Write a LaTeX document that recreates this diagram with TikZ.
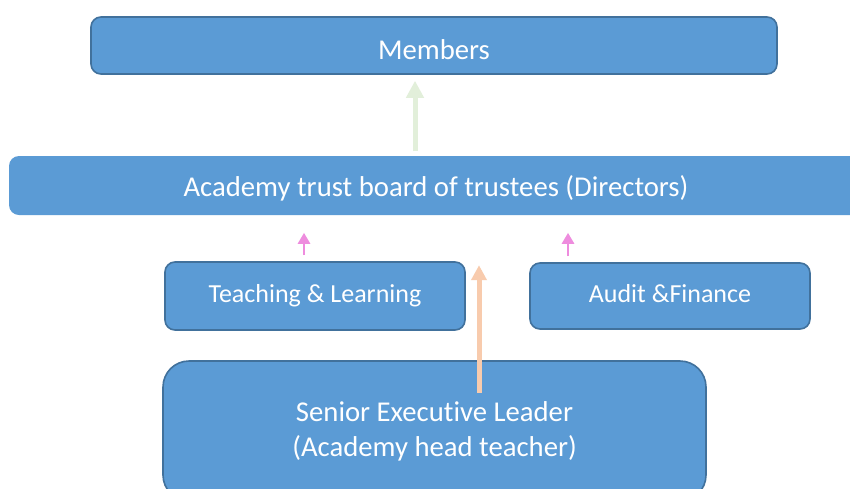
\documentclass[tikz,border=0pt]{standalone}
\usepackage{fontspec}
\setmainfont{Carlito}[Ligatures={CommonOff}]
\usetikzlibrary{arrows.meta}
\definecolor{boxfill}{HTML}{5B9BD5}
\definecolor{boxline}{HTML}{41719C}
\definecolor{greenarr}{HTML}{E2EFDA}
\definecolor{pinkarr}{HTML}{EE8CDE}
\definecolor{orangearr}{HTML}{F8CBAD}
\tikzset{
  orgbox/.style={draw=boxline, line width=1.6pt, fill=boxfill, text=white, inner sep=0pt,
    font=\fontsize{28.7}{35}\selectfont, align=center, rounded corners=10pt},
  smallbox/.style={orgbox, font=\fontsize{26}{32}\selectfont, text height=18pt, text depth=6pt},
  bigarrow/.style={line width=5pt, -{Triangle[width=17pt,length=17pt]}},
  smallarrow/.style={line width=2.7pt, pinkarr, -{Triangle[width=12pt,length=11pt]}},
}
\begin{document}
\begin{tikzpicture}[x=1pt,y=1pt]
\useasboundingbox (0,0) rectangle (850,-488);
\fill[white] (0,0) rectangle (850,-488);
\node[orgbox, minimum width=686pt, minimum height=57pt, text height=27pt, text depth=0pt] (members) at (434,-45.5) {Members};
\node[orgbox, draw=none, minimum width=854pt, minimum height=59pt, text height=24pt, text depth=2pt] (trust) at (436,-185.5) {Academy trust board of trustees (Directors)};
\node[smallbox, minimum width=300pt, minimum height=68pt] (teach) at (315,-296) {Teaching \& Learning};
\node[smallbox, minimum width=280pt, minimum height=66pt] (audit) at (670,-296) {Audit \&Finance};
\node[orgbox, rounded corners=26pt, minimum width=543pt, minimum height=140pt] (senior) at (434.5,-431) {Senior Executive Leader\\(Academy head teacher)};
\coordinate (gx) at (415,0);
\coordinate (ox) at (479,0);
\coordinate (p1x) at (304,0);
\coordinate (p2x) at (568,0);
\coordinate (ostart) at (479,-393);
\draw[bigarrow, greenarr, shorten <=4pt, shorten >=6pt] (trust.north -| gx) -- (members.south -| gx);
\draw[smallarrow, shorten <=6pt, shorten >=17pt] (teach.north -| p1x) -- (trust.south -| p1x);
\draw[smallarrow, shorten <=6pt, shorten >=17pt] (audit.north -| p2x) -- (trust.south -| p2x);
\draw[line width=5pt, orangearr, -{Triangle[width=15pt,length=15pt]}, shorten >=4pt] (ostart) -- (teach.north -| ox);
\end{tikzpicture}
\end{document}
